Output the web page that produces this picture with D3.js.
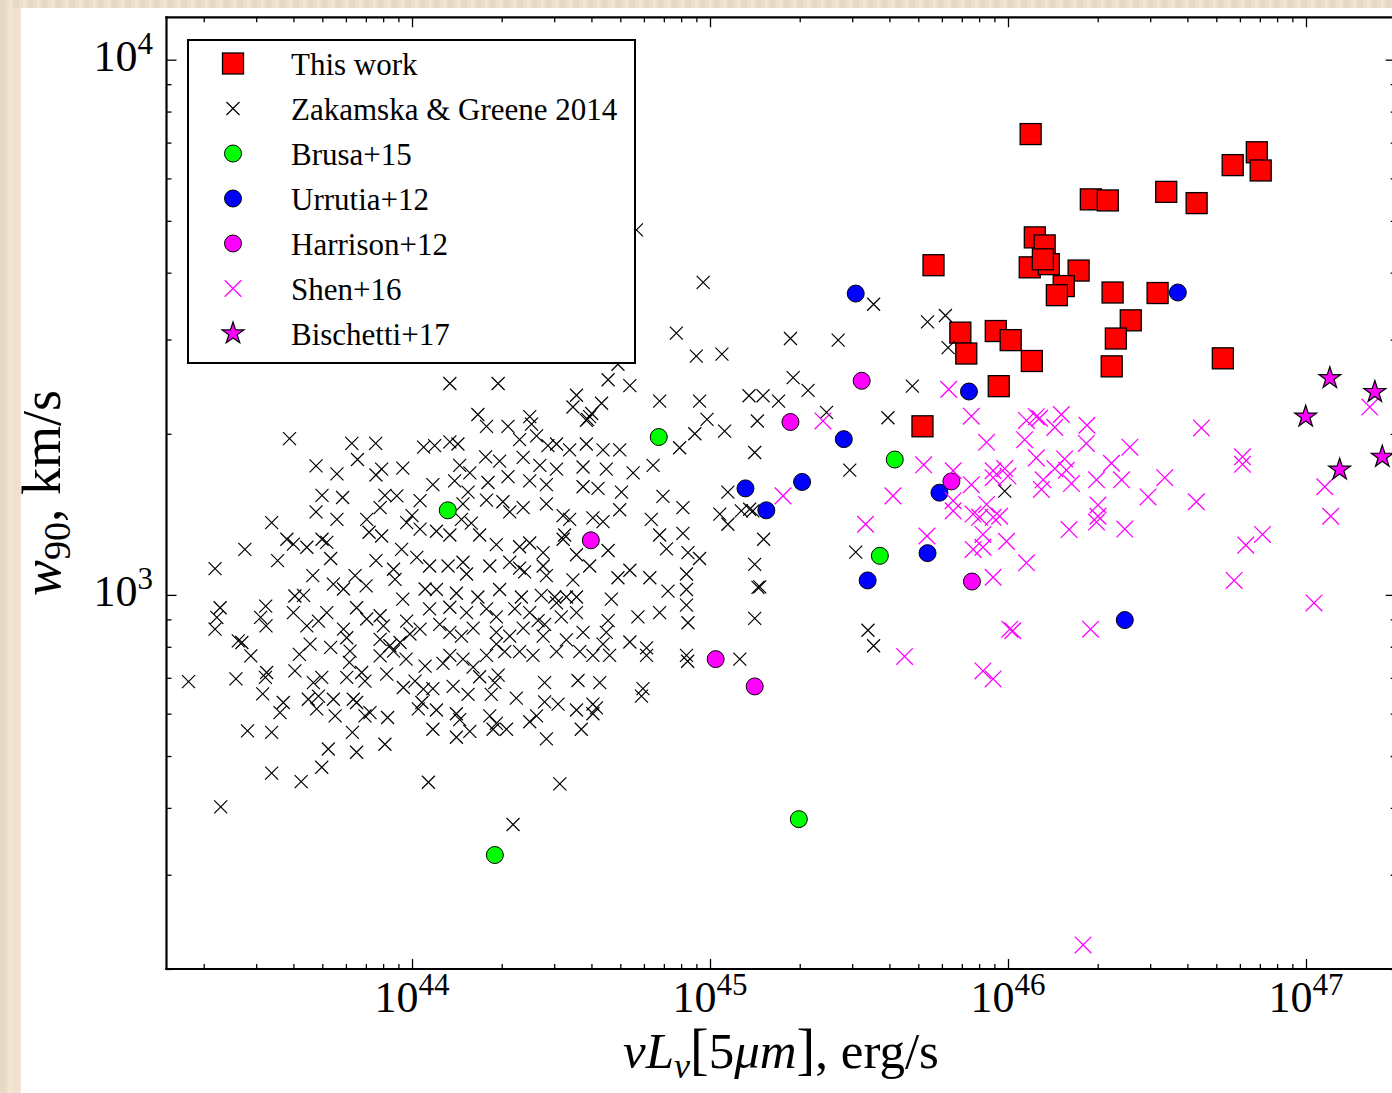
<!DOCTYPE html>
<html><head><meta charset="utf-8">
<script src="https://cdn.jsdelivr.net/npm/d3@7"></script>
<style>html,body{margin:0;padding:0;background:#fff;} svg{display:block;}</style>
</head><body>
<svg id="chart" width="1392" height="1093"></svg>
<script>
// All values stored as [log10(nuL_nu [erg/s]), log10(w90 [km/s])]
const thisWork = [[46.076,3.861],[46.835,3.827],[46.754,3.803],[46.848,3.793],[46.531,3.753],[46.278,3.739],[46.335,3.737],[46.633,3.732],[46.090,3.668],[46.123,3.653],
[45.750,3.616],[46.073,3.612],[46.137,3.618],[46.117,3.627],[46.237,3.606],[46.187,3.577],[46.164,3.560],[46.351,3.565],[46.502,3.564],[46.412,3.513],
[45.840,3.490],[45.959,3.493],[46.009,3.476],[46.362,3.479],[45.860,3.451],[46.080,3.437],[46.721,3.442],[46.348,3.427],[45.969,3.390],[45.713,3.315]];

const zakamska = [[43.589,3.292],[43.798,3.283],[43.878,3.283],[44.039,3.276],[43.817,3.253],[43.678,3.241],[43.748,3.226],[43.879,3.224],[43.898,3.235],[43.969,3.237],
[43.698,3.186],[43.767,3.182],[43.909,3.186],[43.949,3.185],[44.027,3.176],[43.678,3.155],[43.748,3.141],[43.848,3.141],[43.893,3.163],[44.000,3.148],
[43.856,3.117],[43.898,3.110],[43.982,3.135],[44.027,3.123],[43.529,3.135],[43.580,3.104],[43.602,3.095],[43.647,3.089],[43.698,3.104],[43.714,3.098],
[43.439,3.085],[43.549,3.064],[43.727,3.068],[43.339,3.049],[43.667,3.036],[43.736,3.020],[43.770,3.011],[43.809,3.036],[43.846,3.017],[43.879,3.064],
[43.938,3.048],[43.965,3.085],[44.016,3.070],[43.943,3.029],[43.969,2.992],[44.044,3.011],[43.607,2.998],[43.636,2.999],[43.356,2.976],[43.345,2.958],
[43.339,2.936],[43.509,2.979],[43.492,2.958],[43.510,2.942],[43.602,2.967],[43.714,2.967],[43.686,2.951],[43.647,2.942],[43.814,2.976],[43.770,2.936],
[43.781,2.920],[43.848,2.955],[43.893,2.961],[43.904,2.942],[43.982,2.951],[43.993,2.927],[44.027,2.936],[43.893,2.917],[43.926,2.905],[43.960,2.911],
[43.417,2.914],[43.429,2.911],[43.459,2.886],[43.658,2.908],[43.727,2.902],[43.622,2.889],[43.792,2.895],[43.790,2.874],[43.893,2.886],[43.938,2.895],
[43.980,2.880],[44.044,2.867],[43.250,2.838],[43.409,2.843],[43.512,2.855],[43.508,2.846],[43.607,2.858],[43.669,2.836],[43.697,2.846],[43.781,2.846],
[43.831,2.855],[43.842,2.839],[43.915,2.852],[43.971,2.827],[44.010,2.839],[44.038,2.824],[43.499,2.815],[43.568,2.799],[43.557,2.780],[43.652,2.805],
[43.686,2.811],[43.680,2.787],[43.736,2.805],[43.742,2.774],[43.803,2.805],[43.814,2.799],[43.842,2.774],[43.859,2.780],[43.918,2.771],[44.021,2.787],
[44.033,2.799],[43.448,2.746],[43.529,2.743],[43.800,2.743],[43.719,2.712],[43.814,2.706],[43.909,2.721],[43.529,2.667],[43.697,2.678],[43.628,2.651],
[43.358,2.604],[44.055,2.650],
[44.753,3.682],[44.977,3.584],[44.887,3.489],[44.954,3.446],[44.691,3.431],[44.658,3.402],[44.731,3.391],[44.127,3.395],[44.289,3.395],[44.552,3.373],
[44.540,3.351],[44.636,3.358],[44.831,3.362],[44.965,3.362],[44.596,3.333],[44.603,3.339],[44.589,3.328],[44.585,3.326],[44.221,3.337],[44.250,3.315],
[44.322,3.315],[44.395,3.333],[44.401,3.319],[44.949,3.301],[44.898,3.275],[44.076,3.279],[44.127,3.286],[44.154,3.282],[44.361,3.290],[44.418,3.297],
[44.456,3.279],[44.485,3.282],[44.529,3.271],[44.585,3.282],[44.641,3.271],[44.697,3.271],[44.247,3.258],[44.294,3.250],[44.373,3.257],[44.429,3.242],
[44.485,3.235],[44.574,3.239],[44.652,3.235],[44.742,3.228],[44.809,3.242],[44.160,3.242],[44.194,3.228],[44.070,3.206],[44.143,3.213],[44.255,3.210],
[44.322,3.221],[44.395,3.213],[44.451,3.206],[44.574,3.202],[44.624,3.199],[44.703,3.192],[44.842,3.184],[44.909,3.163],[44.803,3.141],[44.831,3.112],
[44.909,3.115],[44.854,3.086],[44.926,3.079],[44.965,3.068],[44.188,3.192],[44.171,3.170],[44.250,3.177],[44.305,3.174],[44.328,3.155],[44.373,3.163],
[44.451,3.170],[44.507,3.148],[44.529,3.141],[44.607,3.144],[44.641,3.137],[44.697,3.159],[44.166,3.141],[44.199,3.134],[44.082,3.119],[44.127,3.112],
[44.227,3.112],[44.283,3.094],[44.361,3.090],[44.395,3.097],[44.440,3.079],[44.507,3.104],[44.512,3.112],[44.552,3.075],[44.658,3.083],[44.596,3.054],
[44.691,3.032],[44.731,3.046],[44.798,3.032],[44.859,3.007],[44.921,3.039],[44.921,3.010],[44.059,3.054],[44.121,3.054],[44.171,3.061],[44.183,3.039],
[44.261,3.054],[44.328,3.061],[44.361,3.050],[44.378,3.043],[44.440,3.054],[44.451,3.036],[44.540,3.028],[44.518,2.996],[44.082,3.010],[44.149,3.003],
[44.221,2.996],[44.294,3.010],[44.367,2.996],[44.434,2.999],[44.479,2.996],[44.485,2.985],[44.552,2.996],[44.669,2.992],[44.059,2.974],[44.127,2.977],
[44.183,2.967],[44.250,2.974],[44.283,2.959],[44.345,2.974],[44.395,2.967],[44.423,2.952],[44.445,2.945],[44.501,2.959],[44.552,2.967],[44.658,2.952],
[44.758,2.959],[44.831,2.967],[44.921,2.981],[44.926,2.948],[44.093,2.945],[44.127,2.930],[44.166,2.923],[44.205,2.938],[44.283,2.930],[44.328,2.923],
[44.373,2.938],[44.440,2.923],[44.518,2.916],[44.574,2.930],[44.652,2.930],[44.641,2.908],[44.731,2.912],[44.787,2.901],[44.921,2.887],[44.925,2.876],
[44.127,2.887],[44.104,2.872],[44.171,2.880],[44.205,2.865],[44.250,2.887],[44.283,2.908],[44.311,2.894],[44.361,2.894],[44.406,2.887],[44.485,2.894],
[44.563,2.894],[44.607,2.887],[44.663,2.887],[44.787,2.887],[44.227,2.847],[44.289,2.850],[44.278,2.836],[44.445,2.836],[44.557,2.840],[44.630,2.836],
[44.775,2.825],[44.770,2.811],[44.070,2.825],[44.138,2.829],[44.188,2.814],[44.266,2.814],[44.350,2.807],[44.445,2.800],[44.490,2.796],[44.552,2.785],
[44.607,2.796],[44.619,2.789],[44.082,2.785],[44.149,2.778],[44.160,2.767],[44.261,2.774],[44.283,2.760],[44.317,2.749],[44.395,2.763],[44.418,2.774],
[44.568,2.749],[44.607,2.778],[44.070,2.749],[44.149,2.734],[44.194,2.745],[44.272,2.749],[44.451,2.731],[44.496,2.647],[44.339,2.571],
[45.549,3.543],[45.730,3.510],[45.790,3.522],[45.799,3.462],[45.270,3.479],[45.430,3.476],[45.040,3.450],[45.279,3.406],[45.329,3.382],[45.679,3.390],
[45.131,3.372],[45.178,3.372],[45.230,3.362],[45.391,3.341],[45.597,3.331],[44.990,3.328],[45.049,3.306],[45.159,3.325],[45.150,3.266],[45.469,3.233],
[45.060,3.192],[45.033,3.151],[45.060,3.132],[45.105,3.157],[45.133,3.160],[45.144,3.157],[45.180,3.104],[45.150,3.057],[45.161,3.014],[45.167,3.015],
[45.150,2.956],[45.489,3.080],[45.530,2.934],[45.549,2.905],[45.100,2.880],[45.989,3.194]];

const brusa = [[44.120,3.158],[44.828,3.295],[45.620,3.253],[45.570,3.073],[44.278,2.514],[45.298,2.581]];

const urrutia = [[45.489,3.563],[46.570,3.565],[45.869,3.380],[45.449,3.291],[45.309,3.211],[45.119,3.199],[45.189,3.158],[45.770,3.191],[45.730,3.078],[45.529,3.027],[46.392,2.953]];

const harrison = [[45.509,3.400],[45.270,3.323],[45.810,3.212],[44.600,3.102],[45.879,3.025],[45.019,2.880],[45.150,2.829]];

const shen = [[45.801,3.384],[45.379,3.325],[45.877,3.334],[45.928,3.285],[45.717,3.243],[45.816,3.232],[45.877,3.206],[45.950,3.232],[45.950,3.219],[45.245,3.185],
[45.614,3.185],[45.816,3.176],[45.816,3.157],[45.883,3.151],[45.905,3.145],[45.928,3.169],[45.950,3.145],[45.522,3.132],[45.728,3.110],[45.916,3.113],
[45.883,3.085],[45.916,3.089],[45.950,3.033],[45.653,2.885],[45.916,2.858],[45.950,2.843],
[46.062,3.326],[46.095,3.333],[46.106,3.330],[46.179,3.337],[46.157,3.313],[46.265,3.317],[46.056,3.290],[46.263,3.283],[46.409,3.276],[46.649,3.312],
[46.095,3.256],[46.190,3.254],[46.157,3.236],[46.196,3.233],[46.347,3.246],[45.989,3.236],[46.000,3.222],[46.118,3.215],[46.112,3.197],[46.213,3.208],
[46.297,3.215],[46.381,3.215],[46.526,3.219],[46.302,3.168],[46.302,3.147],[46.470,3.183],[46.632,3.174],[46.787,3.258],[46.787,3.244],[46.205,3.122],
[46.297,3.136],[46.392,3.123],[45.995,3.100],[46.062,3.060],[46.798,3.093],[46.854,3.113],[46.759,3.027],[47.063,3.202],[47.083,3.147],[47.027,2.985],
[47.214,3.351],[46.006,2.936],[46.016,2.933],[46.277,2.936],[46.252,2.346],[45.972,3.147]];

const bischetti = [[47.080,3.405],[47.231,3.379],[46.999,3.333],[47.256,3.258],[47.113,3.234]];

const xTickExponents = [44, 45, 46, 47];
const yTickExponents = [3, 4];
const legendLabels = ["This work", "Zakamska & Greene 2014", "Brusa+15", "Urrutia+12", "Harrison+12", "Shen+16", "Bischetti+17"];

const SERIF = "'Liberation Serif', 'DejaVu Serif', serif";
const svg = d3.select("#chart");

// page background (beige textured border)
const defs = svg.append("defs");
const pat = defs.append("pattern").attr("id","bg").attr("width",14).attr("height",14).attr("patternUnits","userSpaceOnUse");
pat.append("rect").attr("width",14).attr("height",14).attr("fill","#ecdfcb");
pat.append("rect").attr("x",0).attr("width",5).attr("height",14).attr("fill","#e6d8c1");
pat.append("rect").attr("x",9).attr("width",3).attr("height",14).attr("fill","#f1e5d3");
svg.append("rect").attr("width",1392).attr("height",1093).attr("fill","url(#bg)");
svg.append("rect").attr("x",8).attr("y",8).attr("width",13).attr("height",1085).attr("fill","#f4e6d3").attr("opacity",0.7);
svg.append("rect").attr("x",21).attr("y",8).attr("width",1371).attr("height",1085).attr("fill","#ffffff");

const L = 166.5, R = 1395.7, T = 17.3, B = 969;
const x = d3.scaleLog().domain([1.5e43, 2e47]).range([L, R]);
const y = d3.scaleLog().domain([200, 12000]).range([B, T]);
const px = d => x(Math.pow(10, d[0]));
const py = d => y(Math.pow(10, d[1]));

defs.append("clipPath").attr("id","clip").append("rect").attr("x",L).attr("y",T).attr("width",R-L).attr("height",B-T);

// ticks
const isMajor = v => Math.abs(Math.log10(v) - Math.round(Math.log10(v))) < 1e-9;
const xt = x.ticks().filter(v => v >= 1.5e43 && v <= 2e47);
const yt = y.ticks().filter(v => v >= 200 && v <= 12000);
const xMaj = xt.filter(isMajor), xMin = xt.filter(v => !isMajor(v));
const yMaj = yt.filter(isMajor), yMin = yt.filter(v => !isMajor(v));

function addAxis(gen, tr, vals, size) {
  const g = svg.append("g").attr("transform", tr)
    .call(gen.tickValues(vals).tickSize(size).tickFormat(""));
  g.select(".domain").remove();
  g.selectAll(".tick line").attr("stroke","#000").attr("stroke-width",1.3);
}
addAxis(d3.axisBottom(x), `translate(0,${B})`, xMaj, -10);
addAxis(d3.axisBottom(x), `translate(0,${B})`, xMin, -5);
addAxis(d3.axisTop(x), `translate(0,${T})`, xMaj, -10);
addAxis(d3.axisTop(x), `translate(0,${T})`, xMin, -5);
addAxis(d3.axisLeft(y), `translate(${L},0)`, yMaj, -10);
addAxis(d3.axisLeft(y), `translate(${L},0)`, yMin, -5);
addAxis(d3.axisRight(y), `translate(${R},0)`, yMaj, -10);
addAxis(d3.axisRight(y), `translate(${R},0)`, yMin, -5);

// tick labels
xTickExponents.forEach(e => {
  const t = svg.append("text").attr("x", x(Math.pow(10,e))).attr("y", 1012)
    .attr("text-anchor","middle").style("font-family",SERIF).style("font-size","44px").attr("fill","#000");
  t.append("tspan").text("10");
  t.append("tspan").attr("dy",-17).style("font-size","31px").text(e);
});
yTickExponents.forEach(e => {
  const t = svg.append("text").attr("x", 153).attr("y", y(Math.pow(10,e)) + 11)
    .attr("text-anchor","end").style("font-family",SERIF).style("font-size","44px").attr("fill","#000");
  t.append("tspan").text("10");
  t.append("tspan").attr("dy",-17).style("font-size","31px").text(e);
});

// axis labels
const xl = svg.append("text").attr("x", 781).attr("y", 1068).attr("text-anchor","middle")
  .style("font-family",SERIF).style("font-size","51px").attr("fill","#000");
xl.append("tspan").style("font-style","italic").text("νL");
xl.append("tspan").style("font-style","italic").style("font-size","36px").attr("dy",10).text("ν");
xl.append("tspan").attr("dy",-10).style("font-size","56px").text("[");
xl.append("tspan").text("5");
xl.append("tspan").style("font-style","italic").text("μm");
xl.append("tspan").style("font-size","56px").text("]");
xl.append("tspan").text(", erg/s");

const yl = svg.append("text").attr("transform","translate(60,493) rotate(-90)").attr("text-anchor","middle")
  .style("font-family",SERIF).style("font-size","54px").attr("fill","#000");
yl.append("tspan").style("font-style","italic").text("w");
yl.append("tspan").style("font-size","38px").attr("dy",10).text("90");
yl.append("tspan").attr("dy",-10).text(", km/s");

// marker helpers
const crossPath = h => `M${-h},${-h}L${h},${h}M${-h},${h}L${h},${-h}`;
function starPath(Ro) {
  const ri = Ro * 0.382; let p = "";
  for (let i = 0; i < 10; i++) {
    const r = i % 2 === 0 ? Ro : ri, a = -Math.PI/2 + i * Math.PI/5;
    p += (i ? "L" : "M") + (r*Math.cos(a)).toFixed(2) + "," + (r*Math.sin(a)).toFixed(2);
  }
  return p + "Z";
}
const styles = {
  square: s => s.append("rect").attr("x",-10.5).attr("y",-10.5).attr("width",21).attr("height",21).attr("fill","#ff0000").attr("stroke","#000").attr("stroke-width",1.3),
  kx: s => s.append("path").attr("d",crossPath(6.5)).attr("fill","none").attr("stroke","#000").attr("stroke-width",1.2),
  green: s => s.append("circle").attr("r",8.5).attr("fill","#00ff00").attr("stroke","#000").attr("stroke-width",1),
  blue: s => s.append("circle").attr("r",8.5).attr("fill","#0000ff").attr("stroke","#000").attr("stroke-width",1),
  mag: s => s.append("circle").attr("r",8.5).attr("fill","#ff00ff").attr("stroke","#000").attr("stroke-width",1),
  mx: s => s.append("path").attr("d",crossPath(8.3)).attr("fill","none").attr("stroke","#ff00ff").attr("stroke-width",1.3),
  star: s => s.append("path").attr("d",starPath(11.5)).attr("fill","#ff00ff").attr("stroke","#000").attr("stroke-width",1.2)
};
const series = [
  [thisWork, "square"], [zakamska, "kx"], [brusa, "green"], [urrutia, "blue"],
  [harrison, "mag"], [shen, "mx"], [bischetti, "star"]
];
const plot = svg.append("g").attr("clip-path","url(#clip)");
series.forEach(([data, st]) => {
  const g = plot.append("g").selectAll("g").data(data).join("g")
    .attr("transform", d => `translate(${px(d)},${py(d)})`);
  styles[st](g);
});

// spines
[[L,T,L,B],[L,B,R,B],[L,T,R,T],[R,T,R,B]].forEach(c =>
  svg.append("line").attr("x1",c[0]).attr("y1",c[1]).attr("x2",c[2]).attr("y2",c[3]).attr("stroke","#000").attr("stroke-width",2.2).attr("stroke-linecap","square"));

// legend
const lg = svg.append("g");
lg.append("rect").attr("x",188).attr("y",40).attr("width",447).attr("height",323).attr("fill","#fff").attr("stroke","#000").attr("stroke-width",2);
series.forEach(([data, st], i) => {
  const cy = 63.5 + i * 45;
  styles[st](lg.append("g").attr("transform", `translate(233,${cy})`));
  lg.append("text").attr("x",291).attr("y",cy + 11).style("font-family",SERIF).style("font-size","31px").attr("fill","#000").text(legendLabels[i]);
});
</script>
</body></html>
